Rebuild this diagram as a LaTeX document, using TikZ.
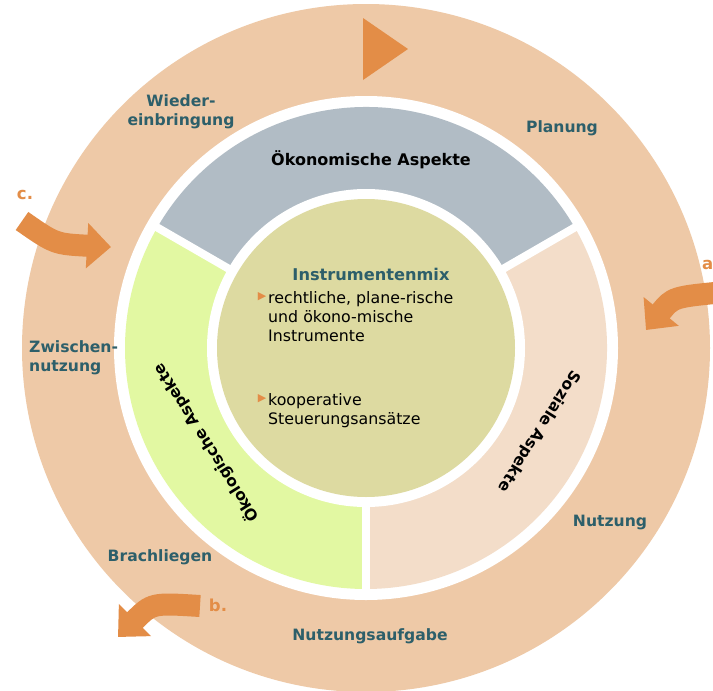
\documentclass[tikz,border=0pt]{standalone}
\usepackage{fontspec}
\setmainfont{DejaVu Sans}
\usepackage{tikz}
\usetikzlibrary{arrows.meta}

\definecolor{ringpeach}{HTML}{EEC9A7}
\definecolor{oekongrey}{HTML}{B1BCC5}
\definecolor{oekolgreen}{HTML}{E2F8A2}
\definecolor{sozpink}{HTML}{F3DDC9}
\definecolor{mixolive}{HTML}{DDDAA1}
\definecolor{labelteal}{HTML}{2D5F6A}
\definecolor{arroworange}{HTML}{E38D47}

\begin{document}
\begin{tikzpicture}[x=1pt,y=-1pt,
    phase/.style={font=\bfseries\fontsize{15.6}{19}\selectfont, text=labelteal, align=center, inner sep=0pt},
    aspect/.style={font=\bfseries\fontsize{15.6}{19}\selectfont, text=black, inner sep=0pt},
    letter/.style={font=\bfseries\fontsize{16.5}{19}\selectfont, text=arroworange, inner sep=0pt},
    bullettext/.style={font=\fontsize{15.8}{19}\selectfont, align=left, inner sep=0pt, anchor=north west},
    bulletmark/.style={font=\fontsize{11}{12}\selectfont, text=arroworange, inner sep=0pt},
    bigarrow/.style={draw=arroworange, line width=22pt, -{Triangle[length=24pt, width=44pt]}}]
    \clip (0,0) rectangle (713,691);
    \fill[white] (0,0) rectangle (713,691);
    \coordinate (C) at (366,348);

    \fill[ringpeach] (C) circle (344);
    \fill[white] (C) circle (252);
    \fill[oekongrey] (C) -- +(-150:241) arc[start angle=-150, end angle=-30, radius=241] -- cycle;
    \fill[oekolgreen] (C) -- +(90:241) arc[start angle=90, end angle=210, radius=241] -- cycle;
    \fill[sozpink] (C) -- +(-30:241) arc[start angle=-30, end angle=90, radius=241] -- cycle;
    \foreach \a in {-150,-30,90}
        \draw[white, line width=8pt] (C) -- +(\a:250);
    \fill[white] (C) circle (159);
    \fill[mixolive] (C) circle (149);

    \node[aspect, font=\bfseries\fontsize{16}{19}\selectfont] (oekonomie) at (371,160) {Ökonomische Aspekte};
    \node[aspect, rotate=122] (oekologie) at (206,443) {Ökologische Aspekte};
    \node[aspect, rotate=238] (soziales) at (539,431) {Soziale Aspekte};

    \node[phase, font=\bfseries\fontsize{16.2}{19}\selectfont] (mix) at (371,274) {Instrumentenmix};
    \node[bulletmark] (mark1) at (262,297) {▶};
    \node[bullettext] (instr) at (268,291) {rechtliche, plane-rische\\und ökono-mische\\Instrumente};
    \node[bulletmark] (mark2) at (262,399) {▶};
    \node[bullettext] (koop) at (268,393) {kooperative\\Steuerungsansätze};

    \node[phase] (wieder) at (181,112) {Wieder-\\einbringung};
    \node[phase] (planung) at (562,128) {Planung};
    \node[phase, align=left, anchor=west] (zwischen) at (29,358) {Zwischen-\\nutzung};
    \node[phase] (nutzung) at (610,522) {Nutzung};
    \node[phase] (brache) at (160,557) {Brachliegen};
    \node[phase] (aufgabe) at (370,636) {Nutzungsaufgabe};

    \fill[arroworange] (363,18) -- (363,80) -- (408,49) -- cycle;

    \node[letter] (lc) at (25,195) {c.};
    \coordinate (cTail) at (22,221);
    \coordinate (cTip) at (111,247);
    \draw[bigarrow] (cTail) .. controls (55,244) .. (cTip);

    \node[letter, anchor=west] (la) at (702,265) {a.};
    \coordinate (aTail) at (725,292);
    \coordinate (aTip) at (646,330);
    \draw[bigarrow] (aTail) .. controls (673,297) .. (aTip);

    \node[letter] (lb) at (218,605) {b.};
    \coordinate (bTail) at (200,606);
    \coordinate (bTip) at (118,637);
    \draw[bigarrow] (bTail) .. controls (152,603) .. (bTip);
\end{tikzpicture}
\end{document}
